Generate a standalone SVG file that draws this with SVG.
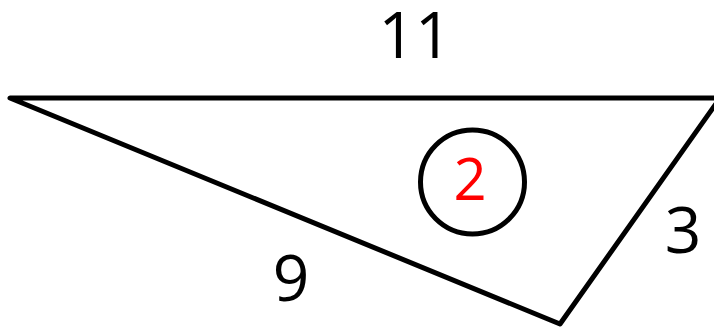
<svg xmlns="http://www.w3.org/2000/svg" width="714" height="327" viewBox="0 0 714 327">
<style>
.edge{fill:none;stroke:#000;stroke-width:5;stroke-linejoin:round;stroke-linecap:round}
.lbl{font-family:"Open Sans","Liberation Sans",sans-serif;font-size:64px;fill:#000;text-anchor:middle}
.face{font-family:"Open Sans","Liberation Sans",sans-serif;font-size:58px;fill:#ff0000;text-anchor:middle}
</style>
<rect width="714" height="327" fill="#fff"/>
<g id="connectors">
<polygon class="edge" points="10,98 720,98 560,324"/>
</g>
<g id="label-11"><text class="lbl" x="415" y="58">11</text></g>
<g id="label-3"><text class="lbl" x="683" y="253">3</text></g>
<g id="label-9"><text class="lbl" x="291" y="301">9</text></g>
<g id="face-2">
<circle cx="472.5" cy="182" r="52" fill="none" stroke="#000" stroke-width="5"/>
<text class="face" x="470" y="200">2</text>
</g>
</svg>
